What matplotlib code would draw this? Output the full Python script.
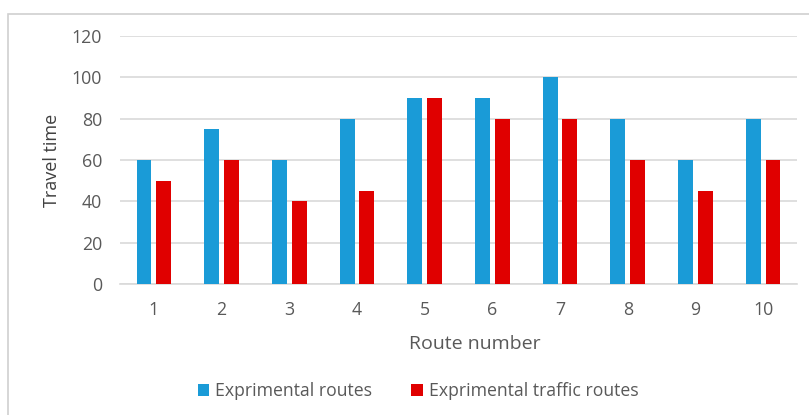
import numpy as np
import matplotlib
matplotlib.use("Agg")
import matplotlib.pyplot as plt
from matplotlib.patches import Rectangle

# ----------------- Données ----------------- #
routes = ['1', '2', '3', '4', '5', '6', '7', '8', '9', '10']
exp_routes = [60, 75, 60, 80, 90, 90, 100, 80, 60, 80]
exp_traffic_routes = [50, 60, 40, 45, 90, 80, 80, 60, 45, 60]
y_ticks = [0, 20, 40, 60, 80, 100, 120]

BLUE = '#1A9BD7'
RED = '#E00000'
GRID = '#D9D9D9'
TXT = '#595959'

plt.rcParams['font.family'] = ['Open Sans', 'DejaVu Sans']

W, H = 809, 415
fig = plt.figure(figsize=(W / 100, H / 100), dpi=100)
ax = fig.add_axes([120 / W, 1 - 284 / H, (797 - 120) / W, (284 - 36) / H])

# cadre du graphique
fig.patches.append(Rectangle((8 / W, -0.1), 1.2, 1 - 14 / H + 0.1,
                             transform=fig.transFigure, fill=False,
                             edgecolor='#D0D0D0', linewidth=1.2))

x = np.arange(len(routes))
w = 0.22
gap = 0.07
ax.bar(x - (w + gap) / 2, exp_routes, w, color=BLUE, label='Exprimental routes', zorder=3)
ax.bar(x + (w + gap) / 2, exp_traffic_routes, w, color=RED, label='Exprimental traffic routes', zorder=3)

ax.set_xlim(-0.5, len(routes) - 0.5)
ax.set_ylim(0, 120)
ax.set_yticks(y_ticks)
ax.set_xticks(x)
ax.set_xticklabels(routes)
ax.grid(axis='y', color=GRID, linewidth=1.2, zorder=0)
for s in ['top', 'right', 'left']:
    ax.spines[s].set_visible(False)
ax.spines['bottom'].set_color(GRID)
ax.spines['bottom'].set_linewidth(1.2)
ax.tick_params(axis='both', length=0, labelsize=12.8, labelcolor=TXT)
ax.tick_params(axis='y', pad=13)
ax.tick_params(axis='x', pad=12)

ax.set_xlabel('Route number', fontsize=14, color=TXT)
ax.xaxis.set_label_coords((475 - 120) / (797 - 120), -(344 - 284) / (284 - 36))
ax.xaxis.label.set_va('center')
ax.set_ylabel('Travel time', fontsize=13, color='#404040')
ax.yaxis.set_label_coords(-(120 - 52) / (797 - 120), (284 - 160) / (284 - 36))
ax.yaxis.label.set_va('center')

handles, labels = ax.get_legend_handles_labels()
fig.legend(handles, labels, loc='center', bbox_to_anchor=(418 / W, 1 - 391 / H),
           ncol=2, frameon=False, fontsize=12.7, labelcolor=TXT,
           handlelength=0.65, handleheight=0.65, columnspacing=2.2,
           handletextpad=0.35, borderpad=0)

fig.savefig('out.png', dpi=100, facecolor='white')
